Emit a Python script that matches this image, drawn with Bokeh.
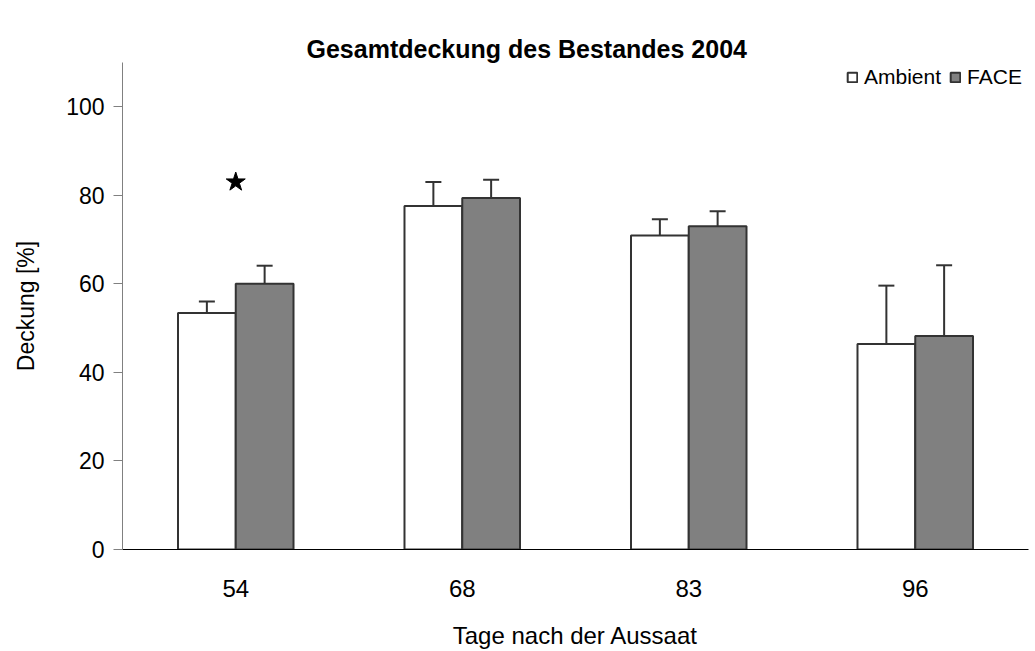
from bokeh.plotting import figure
from bokeh.models import ColumnDataSource, FactorRange, Range1d, FixedTicker, Legend, LegendItem, Title
from bokeh.transform import dodge
from bokeh.embed import file_html
from bokeh.resources import INLINE

# ---- data ----
days = ["54", "68", "83", "96"]
ambient = [53.4, 77.6, 70.9, 46.4]
ambient_se = [2.6, 5.4, 3.7, 13.2]
face = [60.0, 79.4, 73.0, 48.2]
face_se = [4.1, 4.1, 3.4, 16.0]
star_day = ["54"]
star_y = [83.0]
y_ticks = [0, 20, 40, 60, 80, 100]

src = ColumnDataSource(dict(
    day=days,
    amb=ambient,
    amb_top=[a + e for a, e in zip(ambient, ambient_se)],
    face=face,
    face_top=[f + e for f, e in zip(face, face_se)],
))

FONT = "Liberation Sans"
EDGE = "#333333"

p = figure(
    width=1032, height=651,
    x_range=FactorRange(factors=days, range_padding=0),
    y_range=Range1d(0, 110),
    output_backend="svg", toolbar_location=None,
    min_border_left=122, min_border_right=4, min_border_top=62, min_border_bottom=101,
)
p.title = None
p.outline_line_color = None
p.xgrid.grid_line_color = None
p.ygrid.grid_line_color = None
p.background_fill_color = "white"

# real title first, then an invisible spacer (placed between title and frame)
main_title = Title(text="Gesamtdeckung des Bestandes 2004", text_font=FONT,
                   text_font_size="25px", text_font_style="bold", text_color="black",
                   align="left", offset=184, standoff=0)
p.add_layout(main_title, "above")
spacer = Title(text=" ", text_font_size="1px", standoff=20, text_alpha=0)
p.add_layout(spacer, "above")

bw = 0.255
off = bw / 2

r_amb = p.vbar(x=dodge("day", -off, range=p.x_range), top="amb", bottom=0, width=bw,
               source=src, fill_color="white", line_color=EDGE, line_width=2)
r_face = p.vbar(x=dodge("day", off, range=p.x_range), top="face", bottom=0, width=bw,
                source=src, fill_color="#808080", line_color=EDGE, line_width=2)

# error bars (upper only)
p.segment(x0=dodge("day", -off, range=p.x_range), y0="amb",
          x1=dodge("day", -off, range=p.x_range), y1="amb_top",
          source=src, line_color=EDGE, line_width=2)
p.scatter(x=dodge("day", -off, range=p.x_range), y="amb_top", marker="dash", size=16,
          source=src, line_color=EDGE, line_width=2)
p.segment(x0=dodge("day", off, range=p.x_range), y0="face",
          x1=dodge("day", off, range=p.x_range), y1="face_top",
          source=src, line_color=EDGE, line_width=2)
p.scatter(x=dodge("day", off, range=p.x_range), y="face_top", marker="dash", size=16,
          source=src, line_color=EDGE, line_width=2)

# significance star
p.scatter(x=star_day, y=star_y, marker="star", size=20, fill_color="black", line_color="black")

# axes
p.yaxis.ticker = FixedTicker(ticks=y_ticks)
p.yaxis.minor_tick_line_color = None
p.yaxis.major_tick_out = 9
p.yaxis.major_tick_in = 0
p.yaxis.axis_line_color = "#808080"
p.yaxis.major_tick_line_color = "#808080"
p.yaxis.major_label_text_font = FONT
p.yaxis.major_label_text_font_size = "23px"
p.yaxis.major_label_text_color = "black"
p.yaxis.major_label_standoff = 9
p.yaxis.axis_label = "Deckung [%]"
p.yaxis.axis_label_text_font = FONT
p.yaxis.axis_label_text_font_size = "23px"
p.yaxis.axis_label_text_font_style = "normal"
p.yaxis.axis_label_text_color = "black"
p.yaxis.axis_label_standoff = 24

p.xaxis.axis_line_color = "black"
p.xaxis.major_tick_line_color = None
p.xaxis.minor_tick_line_color = None
p.xaxis.major_tick_out = 0
p.xaxis.major_label_text_font = FONT
p.xaxis.major_label_text_font_size = "24px"
p.xaxis.major_label_text_color = "black"
p.xaxis.major_label_standoff = 30
p.xaxis.axis_label = "Tage nach der Aussaat"
p.xaxis.axis_label_text_font = FONT
p.xaxis.axis_label_text_font_size = "24px"
p.xaxis.axis_label_text_font_style = "normal"
p.xaxis.axis_label_text_color = "black"
p.xaxis.axis_label_standoff = 22

legend = Legend(
    items=[LegendItem(label="Ambient", renderers=[r_amb]),
           LegendItem(label="FACE", renderers=[r_face])],
    orientation="horizontal", location=(724, 460),
    glyph_width=12, glyph_height=12, label_standoff=6, spacing=8,
    padding=0, margin=0, label_height=24,
    label_text_font=FONT, label_text_font_size="21px", label_text_color="black",
    border_line_color=None, background_fill_alpha=0,
)
p.add_layout(legend)

open("out.html", "w").write(file_html(p, INLINE))
